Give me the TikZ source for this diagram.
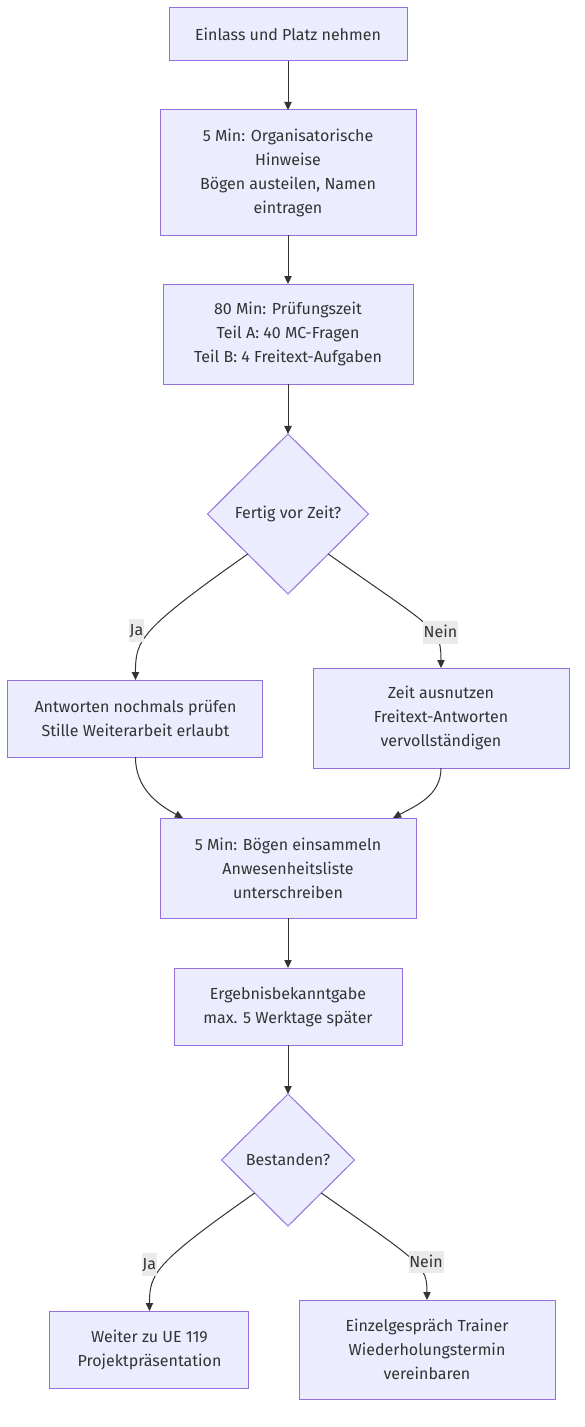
\documentclass[tikz,border=0pt]{standalone}
\usepackage{fontspec}
\setmainfont{Fira Sans}
\usepackage{tikz}
\usetikzlibrary{shapes.geometric,positioning,arrows.meta}

\definecolor{mmfill}{HTML}{ECECFF}
\definecolor{mmborder}{HTML}{9370DB}
\definecolor{mmtext}{HTML}{333333}
\definecolor{mmlabel}{HTML}{EAEAEA}

\begin{document}
\begin{tikzpicture}[
    font=\fontsize{12pt}{18pt}\selectfont,
    procbox/.style={rectangle, draw=mmborder, fill=mmfill, text=mmtext, line width=0.75pt, align=center, inner sep=0pt, outer sep=0pt},
    decbox/.style={diamond, draw=mmborder, fill=mmfill, text=mmtext, line width=0.75pt, align=center, inner sep=0pt, outer sep=0pt},
    flow/.style={-{Triangle[length=6pt,width=5.5pt]}, draw=mmtext, line width=0.75pt},
    elabel/.style={fill=mmlabel, text=mmtext, inner sep=0.5pt, text height=12pt, text depth=4pt}
]
    % frame of the picture
    \useasboundingbox (0,0) rectangle (438.75pt,-1070.25pt);

    % main column
    \node [procbox, minimum width=178.5pt, minimum height=39.75pt] (enter) at (216pt,-25.875pt) {Einlass und Platz nehmen};
    \node [procbox, minimum width=192pt, minimum height=93.75pt, below=36.75pt of enter] (hints) {
        5 Min: Organisatorische\\
        Hinweise\\
        Bögen austeilen, Namen\\
        eintragen
    };
    \node [procbox, minimum width=187.5pt, minimum height=75pt, below=36.75pt of hints] (exam) {
        80 Min: Prüfungszeit\\
        Teil A: 40 MC-Fragen\\
        Teil B: 4 Freitext-Aufgaben
    };
    \node [decbox, minimum width=120.75pt, minimum height=120pt, below=37.5pt of exam] (early) {Fertig vor Zeit?};

    % branches after the exam
    \node [procbox, minimum width=191.25pt, minimum height=57.75pt, below=64.5pt of early, xshift=-114.4pt] (check) {
        Antworten nochmals prüfen\\
        Stille Weiterarbeit erlaubt
    };
    \node [procbox, minimum width=192pt, minimum height=75pt, below=55.5pt of early, xshift=114.75pt] (usetime) {
        Zeit ausnutzen\\
        Freitext-Antworten\\
        vervollständigen
    };

    % collecting and results
    \node [procbox, minimum width=192pt, minimum height=75pt, below=168pt of early] (collect) {
        5 Min: Bögen einsammeln\\
        Anwesenheitsliste\\
        unterschreiben
    };
    \node [procbox, minimum width=171pt, minimum height=57.75pt, below=37.5pt of collect] (result) {
        Ergebnisbekanntgabe\\
        max. 5 Werktage später
    };
    \node [decbox, minimum width=99.75pt, minimum height=99pt, below=36.75pt of result] (passed) {Bestanden?};

    % final branches
    \node [procbox, minimum width=149.25pt, minimum height=57.75pt, below=63.75pt of passed, xshift=-103.9pt] (next) {
        Weiter zu UE 119\\
        Projektpräsentation
    };
    \node [procbox, minimum width=192pt, minimum height=74.25pt, below=55.5pt of passed, xshift=104.25pt] (retry) {
        Einzelgespräch Trainer\\
        Wiederholungstermin\\
        vereinbaren
    };

    % connectors
    \draw [flow] (enter) -- (hints);
    \draw [flow] (hints) -- (exam);
    \draw [flow] (exam) -- (early);
    \draw [flow] (early.south west) .. controls +(-81pt,-57pt) and +(0,30pt) .. node[pos=0.5, elabel, xshift=-11pt] {Ja} (check.north);
    \draw [flow] (early.south east) .. controls +(81pt,-57pt) and +(0,30pt) .. node[pos=0.6, elabel, xshift=6pt] {Nein} (usetime.north);
    \draw [flow] (check.south) to[out=-90,in=152] ([xshift=17.25pt]collect.north west);
    \draw [flow] (usetime.south) to[out=-90,in=28] ([xshift=-17.25pt]collect.north east);
    \draw [flow] (collect) -- (result);
    \draw [flow] (result) -- (passed);
    \draw [flow] (passed.south west) .. controls +(-75pt,-52.5pt) and +(0,28pt) .. node[pos=0.5, elabel, xshift=-11.5pt] {Ja} (next.north);
    \draw [flow] (passed.south east) .. controls +(75pt,-52.5pt) and +(0,26pt) .. node[pos=0.58, elabel, xshift=6.5pt, yshift=3pt] {Nein} (retry.north);

\end{tikzpicture}
\end{document}
